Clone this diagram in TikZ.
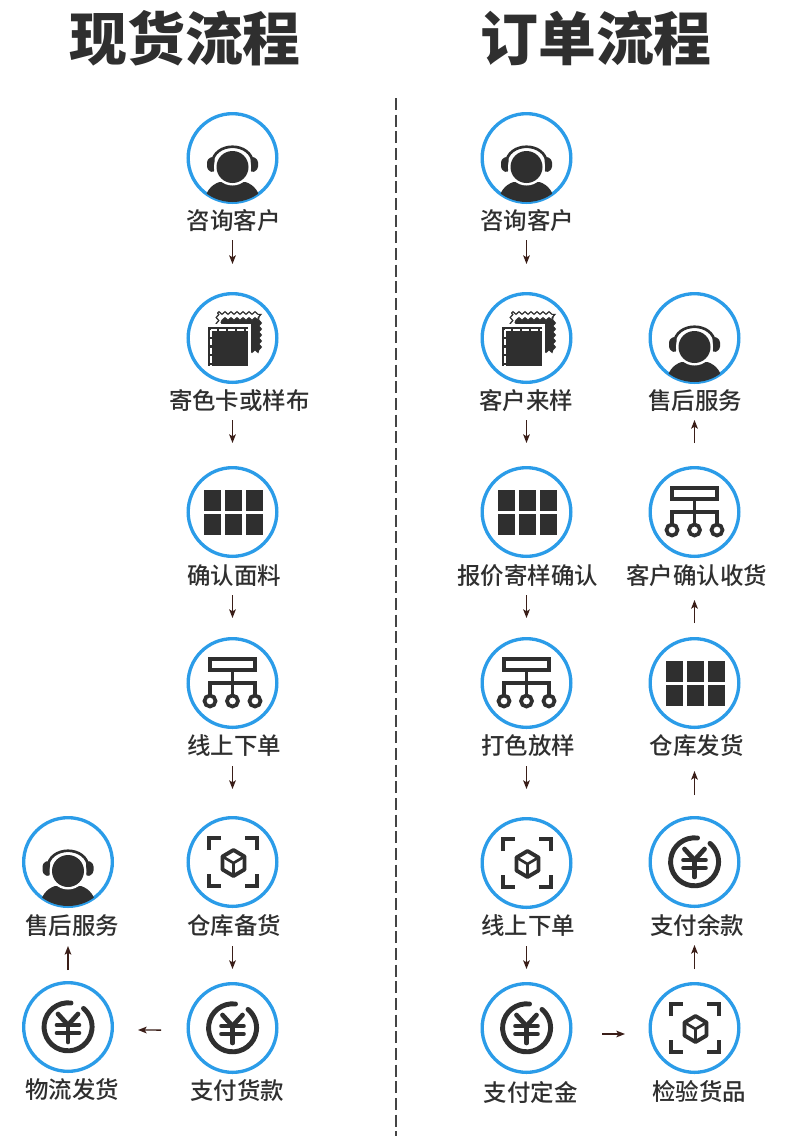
\documentclass[tikz,border=0pt]{standalone}
\usepackage{fontspec}
\setmainfont{Noto Sans CJK SC}
\newfontfamily\labfont{Noto Sans CJK SC Medium}
\usetikzlibrary{arrows.meta,decorations.pathmorphing}
\definecolor{ringblue}{HTML}{2B9CE8}
\definecolor{ink}{HTML}{2F2F2F}
\definecolor{arrowink}{HTML}{3A1E18}
\tikzset{
  x=0.75pt,y=-0.75pt,
  ringnode/.style={circle,draw=ringblue,line width=2.5pt,minimum size=66.5pt,inner sep=0pt,fill=white},
  lab/.style={font=\labfont\fontsize{17.6pt}{20pt}\selectfont,text=ink,inner sep=0pt,anchor=center,xshift=0.3pt,yshift=-0.5pt},
  heading/.style={font=\bfseries\fontsize{43.4pt}{48pt}\selectfont,text=ink,inner sep=0pt,anchor=center},
  arr/.style={draw=arrowink,line width=1pt,-{Stealth[length=6.5pt,width=5pt,inset=1.5pt]}},
  pics/person/.style={code={
    \begin{scope}
      \clip (0,0) circle [radius=44];
      \fill[ink] (-29,46) .. controls (-27,34) and (-22,27) .. (-13,24) -- (13,24) .. controls (22,27) and (27,34) .. (29,46) -- cycle;
    \end{scope}
    \draw[ink,line width=2pt] (-20.5,6) .. controls (-19.5,-17) and (19.5,-17) .. (20.5,6);
    \fill[ink,rounded corners=2.5pt] (-18,-2) -- (-25.5,1) -- (-25.5,12) -- (-18,15) -- cycle;
    \fill[ink,rounded corners=2.5pt] (18,-2) -- (25.5,1) -- (25.5,12) -- (18,15) -- cycle;
    \fill[white] (0,9) circle [radius=18.5];
    \fill[ink] (0,9) circle [radius=16];
  }},
  pics/fabric/.style={code={
    \draw[ink,fill=ink,line width=0.9pt,decorate,decoration={zigzag,segment length=4.5pt,amplitude=1pt}]
      (-11,-20) -- (27.5,-20) -- (27.5,13) -- (-11,13) -- cycle;
    \draw[ink,fill=white,line width=0.9pt,decorate,decoration={zigzag,segment length=4.5pt,amplitude=1pt}]
      (-15,-25) -- (27,-25) -- (27,-19) -- (-10,-19) -- (-10,-10) -- (-15,-10) -- cycle;
    \fill[white] (-28,-14) rectangle (18,31);
    \fill[ink] (-25,-11) rectangle (15,28);
    \draw[white,line width=1.5pt,dash pattern=on 5pt off 1.6pt] (-22,-8) -- (15,-8);
    \draw[white,line width=1.5pt,dash pattern=on 5pt off 1.6pt] (-22,-8) -- (-22,28);
  }},
  pics/tiles/.style={code={
    \foreach \xa/\xb in {-29/-12,-8/9,13/30}{
      \foreach \ya/\yb in {-22/-1,2/23}{
        \fill[ink] (\xa,\ya) rectangle (\xb,\yb);
      }
    }
  }},
  pics/network/.style={code={
    \draw[ink,line width=2.6pt] (-22.5,-24) rectangle (22.5,-13);
    \draw[ink,line width=2.6pt] (0,-13) -- (0,0);
    \draw[ink,line width=2.6pt] (-22.5,13) -- (-22.5,0) -- (22.5,0) -- (22.5,13);
    \draw[ink,line width=2.6pt] (0,0) -- (0,13);
    \foreach \cx in {-22.5,0,22.5}{
      \draw[ink,line width=2.8pt] (\cx,18) circle [radius=5.5];
    }
  }},
  pics/scan/.style={code={
    \draw[ink,line width=3pt] (-24,-12) -- (-24,-24) -- (-12,-24);
    \draw[ink,line width=3pt] (24,-12) -- (24,-24) -- (12,-24);
    \draw[ink,line width=3pt] (-24,12) -- (-24,24) -- (-12,24);
    \draw[ink,line width=3pt] (24,12) -- (24,24) -- (12,24);
    \draw[ink,line width=2.9pt,line join=round] (1,-12) -- (12,-5.5) -- (12,7.5) -- (1,14) -- (-10,7.5) -- (-10,-5.5) -- cycle;
    \draw[ink,line width=2pt,line join=round] (-10,-5.5) -- (1,1) -- (12,-5.5) (1,1) -- (1,14);
  }},
  pics/yen/.style={code={
    \draw[ink,line width=3.7pt,line cap=round] (3,-24) arc [start angle=-83,end angle=-410,radius=24];
    \draw[ink,line width=3.5pt,line cap=round] (-10,-13) -- (0,-2) -- (10,-13);
    \draw[ink,line width=3.5pt,line cap=round] (-11,-2) -- (11,-2);
    \draw[ink,line width=3.5pt,line cap=round] (-11,6) -- (11,6);
    \draw[ink,line width=3.5pt,line cap=round] (0,-2) -- (0,15);
  }},
}
% \linkit{from}{to}{shorten at start, px}{shorten at end, px}{shift}
\newcommand{\linkit}[5]{\draw[arr,shorten <={#3*0.75pt},shorten >={#4*0.75pt},#5] (#1) -- (#2);}
\begin{document}
\begin{tikzpicture}
\useasboundingbox (0,0) rectangle (790,1136);
\fill[white] (0,0) rectangle (790,1136);

\node[heading] (t1) at (185,38) {现货流程};
\node[heading] (t2) at (596,38) {订单流程};
\coordinate (dashtop) at (396,98);
\coordinate (dashbot) at (396,1136);
\draw[ink!90,line width=0.9pt,dash pattern=on 9pt off 3.5pt] (dashtop) -- (dashbot);

% left flow
\node[ringnode] (a1) at (232.5,158) {};  \pic at (a1) {person};
\node[ringnode] (a2) at (232.5,338) {};  \pic at (a2) {fabric};
\node[ringnode] (a3) at (232.5,512) {};  \pic at (a3) {tiles};
\node[ringnode] (a4) at (232.5,683) {};  \pic at (a4) {network};
\node[ringnode] (a5) at (232.5,862) {};  \pic at (a5) {scan};
\node[ringnode] (a6) at (232.5,1028) {}; \pic at (a6) {yen};
\node[ringnode] (l6) at (68,1027) {};    \pic at (l6) {yen};
\node[ringnode] (l5) at (68,862) {};     \pic at (l5) {person};

\node[lab] (la1) at (233.5,220) {咨询客户};
\node[lab] (la2) at (239,400) {寄色卡或样布};
\node[lab] (la3) at (234,575) {确认面料};
\node[lab] (la4) at (234,745) {线上下单};
\node[lab] (la5) at (234,925) {仓库备货};
\node[lab] (la6) at (237,1090) {支付货款};
\node[lab] (ll6) at (72,1089) {物流发货};
\node[lab] (ll5) at (72,925) {售后服务};

\linkit{a1}{a2}{36}{28}{}
\linkit{a2}{a3}{36}{23}{}
\linkit{a3}{a4}{37}{19}{}
\linkit{a4}{a5}{37}{27}{}
\linkit{a5}{a6}{38}{13}{}
\linkit{a6}{l6}{25.5}{24}{transform canvas={yshift=-1.9pt}}
\linkit{l6}{l5}{11}{38}{}

% right flow
\node[ringnode] (b1) at (526.5,158) {};  \pic at (b1) {person};
\node[ringnode] (b2) at (526.5,338) {};  \pic at (b2) {fabric};
\node[ringnode] (b3) at (526.5,512) {};  \pic at (b3) {tiles};
\node[ringnode] (b4) at (526.5,683) {};  \pic at (b4) {network};
\node[ringnode] (b5) at (526.5,863) {};  \pic at (b5) {scan};
\node[ringnode] (b6) at (526.5,1028) {}; \pic at (b6) {yen};
\node[ringnode] (c6) at (694.5,1028) {}; \pic at (c6) {scan};
\node[ringnode] (c5) at (694.5,862) {};  \pic at (c5) {yen};
\node[ringnode] (c4) at (694.5,683) {};  \pic at (c4) {tiles};
\node[ringnode] (c3) at (694.5,512) {};  \pic at (c3) {network};
\node[ringnode] (c2) at (694.5,338) {};  \pic at (c2) {person};

\node[lab] (lb1) at (527,220) {咨询客户};
\node[lab] (lb2) at (526,400) {客户来样};
\node[lab] (lb3) at (527.5,575) {报价寄样确认};
\node[lab] (lb4) at (528,745) {打色放样};
\node[lab] (lb5) at (528,925) {线上下单};
\node[lab] (lb6) at (530.5,1092) {支付定金};
\node[lab] (lc6) at (699,1091) {检验货品};
\node[lab] (lc5) at (697,925) {支付余款};
\node[lab] (lc4) at (696.5,745) {仓库发货};
\node[lab] (lc3) at (696.5,575) {客户确认收货};
\node[lab] (lc2) at (695,400) {售后服务};

\linkit{b1}{b2}{36}{28}{}
\linkit{b2}{b3}{36}{23}{}
\linkit{b3}{b4}{37}{19}{}
\linkit{b4}{b5}{37}{28}{}
\linkit{b5}{b6}{37}{13}{}
\linkit{b6}{c6}{29.5}{23.5}{transform canvas={yshift=-4.5pt}}
\linkit{c6}{c5}{13}{37}{}
\linkit{c5}{c4}{21}{42}{}
\linkit{c4}{c3}{14}{42}{}
\linkit{c3}{c2}{23}{36}{}
\end{tikzpicture}
\end{document}
